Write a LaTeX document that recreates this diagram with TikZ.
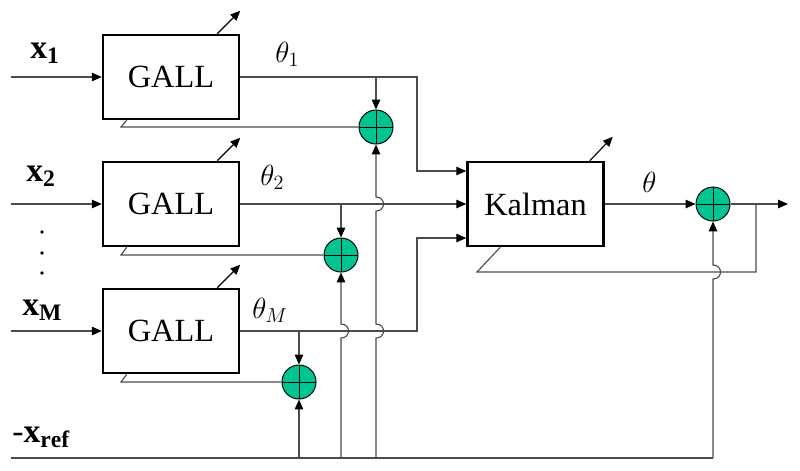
\documentclass[tikz,border=0pt]{standalone}
\usepackage{fontspec}
\setmainfont{Liberation Serif}
\usetikzlibrary{arrows.meta,calc}
\definecolor{sumgreen}{RGB}{0,196,146}
\definecolor{wirec}{RGB}{75,75,75}
\begin{document}
\begin{tikzpicture}[x=0.025cm,y=-0.025cm,
  blk/.style={draw,line width=1.8pt,minimum width=3.4cm,minimum height=2.1cm,inner sep=0pt,font=\fontsize{23}{26}\selectfont},
  sumnode/.style={circle,draw,fill=sumgreen,minimum size=0.85cm,inner sep=0pt,line width=0.7pt,
    path picture={\draw[line width=0.7pt] (path picture bounding box.north)--(path picture bounding box.south) (path picture bounding box.west)--(path picture bounding box.east);}},
  wire/.style={draw=wirec,line width=0.8pt},
  arr/.style={wire,-{Triangle[length=7pt,width=6pt,color=black]}},
  adapt/.style={draw=black,line width=0.8pt,-{Triangle[length=7pt,width=6pt]}},
  lbl/.style={anchor=base west,inner sep=0pt,font=\fontsize{24}{28}\selectfont},
  th/.style={anchor=base west,inner sep=0pt,font=\fontsize{22}{26}\selectfont}]
\useasboundingbox (0,0) rectangle (800,470);

% blocks
\node[blk] (g1) at (171,77) {GALL};
\node[blk] (g2) at (171,204) {GALL};
\node[blk] (g3) at (171,331) {GALL};
\node[blk] (k) at (535.5,204) {Kalman};

% summing junctions
\node[sumnode] (s1) at (376,127) {};
\node[sumnode] (s2) at (341,255) {};
\node[sumnode] (s3) at (299,382) {};
\node[sumnode] (s4) at (713,204) {};

% coordinates
\coordinate (i1) at (11,77);
\coordinate (i2) at (11,204);
\coordinate (i3) at (11,331);
\coordinate (ref) at (11,458);
\coordinate (bus) at (417,0);
\coordinate (out) at (788,204);
\coordinate (fb) at (756,272);
\coordinate (fbl) at (477,272);
\coordinate (fbx) at (121,0);
\coordinate (kin1) at ($(k.west)+(0,-33)$);
\coordinate (kin3) at ($(k.west)+(0,34)$);

% labels
\node[lbl] (l1) at (30,58) {$\mathbf{x}_{\mathbf{1}}$};
\node[lbl] (l2) at (26,181) {$\mathbf{x}_{\mathbf{2}}$};
\node[lbl] (l3) at (22,315) {$\mathbf{x}_{\mathbf{M}}$};
\node[lbl] (l4) at (12,442) {-$\mathbf{x}_{\mathbf{ref}}$};
\node[th] (t1) at (275,62) {$\theta_1$};
\node[th] (t2) at (260,185) {$\theta_2$};
\node[th] (t3) at (252,318) {$\theta_M$};
\node[th] (t4) at (642,192) {$\theta$};

% dots
\fill (42,232) circle (1.3pt);
\fill (42,253) circle (1.3pt);
\fill (42,273) circle (1.3pt);

% inputs
\draw[arr] (i1) -- (g1.west);
\draw[arr] (i2) -- (g2.west);
\draw[arr] (i3) -- (g3.west);

% theta lines to Kalman
\draw[arr] (g1.east) -- (g1.east -| bus) -- (kin1 -| bus) -- (kin1);
\draw[arr] (g2.east) -- (k.west);
\draw[arr] (g3.east) -- (g3.east -| bus) -- (kin3 -| bus) -- (kin3);

% branches to summing junctions
\draw[arr] (s1 |- g1.east) -- (s1.north);
\draw[arr] (s2 |- g2.east) -- (s2.north);
\draw[arr] (s3 |- g3.east) -- (s3.north);

% error feedback to GALL blocks
\draw[wire] (s1.west) -- (s1 -| fbx) -- ($(g1.south west)+(25,0)$);
\draw[wire] (s2.west) -- (s2 -| fbx) -- ($(g2.south west)+(25,0)$);
\draw[wire] (s3.west) -- (s3 -| fbx) -- ($(g3.south west)+(25,0)$);

% reference line
\draw[wire] (ref) -- (ref -| s4);
\draw[arr] (ref -| s4) -- (713,279) .. controls (723,279) and (723,265) .. (713,265) -- (s4.south);
\draw[arr] (ref -| s3) -- (s3.south);
\draw[arr] (ref -| s2) -- (341,338) .. controls (351,338) and (351,324) .. (341,324) -- (s2.south);
\draw[arr] (ref -| s1) -- (376,338) .. controls (386,338) and (386,324) .. (376,324)
  -- (376,211) .. controls (386,211) and (386,197) .. (376,197) -- (s1.south);

% Kalman output
\draw[arr] (k.east) -- (s4.west);
\draw[arr] (s4.east) -- (out);
\draw[wire] (fb |- s4.east) -- (fb) -- (fbl) -- ($(k.south west)+(34,0)$);

% adaptation arrows
\draw[adapt] ($(g1.north east)+(-23,0)$) -- ++(23,-23);
\draw[adapt] ($(g2.north east)+(-23,0)$) -- ++(23,-23);
\draw[adapt] ($(g3.north east)+(-23,0)$) -- ++(23,-23);
\draw[adapt] ($(k.north east)+(-15,0)$) -- ++(23,-24);
\end{tikzpicture}
\end{document}
